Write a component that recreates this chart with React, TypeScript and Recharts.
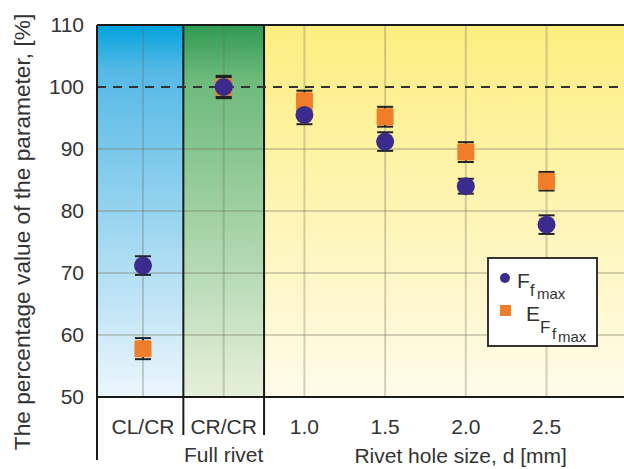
import {
  ComposedChart,
  Scatter,
  ErrorBar,
  XAxis,
  YAxis,
  ReferenceArea,
  ReferenceLine,
  Legend,
} from 'recharts'

const categories = ['CL/CR', 'CR/CR', '1.0', '1.5', '2.0', '2.5']
const forceValues = [71.2, 100, 95.5, 91.2, 84.0, 77.8]
const forceErrors = [1.5, 1.6, 1.5, 1.5, 1.2, 1.5]
const energyValues = [57.8, 100, 97.8, 95.2, 89.5, 84.8]
const energyErrors = [1.7, 1.8, 1.6, 1.6, 1.6, 1.5]
const yTicks = [50, 60, 70, 80, 90, 100, 110]
const xDomain: [number, number] = [-0.57, 5.96]
const groupBounds = [0.5, 1.5]

const FONT = "'Liberation Sans', Arial, sans-serif"
const INK = '#1a1a1a'
const TEXT = '#333'

const forceData = categories.map((_, i) => ({ x: i, y: forceValues[i], err: forceErrors[i] }))
const energyData = categories.map((_, i) => ({ x: i, y: energyValues[i], err: energyErrors[i] }))
const xTicks = [xDomain[0], ...categories.map((_, i) => i), ...groupBounds].sort((a, b) => a - b)

function XTick(props: any) {
  const { x, y, payload } = props
  const v = payload.value
  if (Number.isInteger(v)) {
    return (
      <g>
        <text x={x} y={y + 37} textAnchor="middle" fontFamily={FONT} fontSize={21} fill={TEXT}>
          {categories[v]}
        </text>
        {v === 1 && (
          <text x={x} y={y + 65} textAnchor="middle" fontFamily={FONT} fontSize={21} fill={TEXT}>
            Full rivet
          </text>
        )}
      </g>
    )
  }
  const long = v < 0
  return <line x1={x} x2={x} y1={y} y2={y + (long ? 63 : 38)} stroke={INK} strokeWidth={2} />
}

function LegendBox() {
  return (
    <svg width={111} height={90} style={{ display: 'block' }}>
      <rect x={1} y={1} width={109} height={88} fill="#fff" stroke="#333" strokeWidth={2} />
      <circle cx={18} cy={21} r={5} fill="#3a2b8c" />
      <text fontFamily={FONT} fill={TEXT}>
        <tspan x={30} y={31} fontSize={21}>F</tspan>
        <tspan x={43} y={39} fontSize={16}>f</tspan>
        <tspan x={50} y={42} fontSize={15}>max</tspan>
      </text>
      <rect x={13} y={48} width={11} height={11} fill="#f07d2a" />
      <text fontFamily={FONT} fill={TEXT}>
        <tspan x={39} y={64} fontSize={21}>E</tspan>
        <tspan x={53} y={76} fontSize={17}>F</tspan>
        <tspan x={65} y={82} fontSize={15}>f</tspan>
        <tspan x={71} y={85} fontSize={15}>max</tspan>
      </text>
    </svg>
  )
}

export default function App() {
  return (
    <div style={{ position: 'absolute', left: 0, top: 0, width: 624, height: 469, overflow: 'hidden', background: '#fff' }}>
      <ComposedChart width={624} height={469} margin={{ top: 25, right: 0, bottom: 0, left: 0 }}>
        <defs>
          <linearGradient id="blueGrad" x1="0" y1="0" x2="0" y2="1">
            <stop offset="0" stopColor="#00a2dc" />
            <stop offset="0.12" stopColor="#55b9e6" />
            <stop offset="1" stopColor="#ecf6fc" />
          </linearGradient>
          <linearGradient id="greenGrad" x1="0" y1="0" x2="0" y2="1">
            <stop offset="0" stopColor="#2f9a52" />
            <stop offset="0.14" stopColor="#6cb97a" />
            <stop offset="1" stopColor="#e6f0da" />
          </linearGradient>
          <linearGradient id="yellowGrad" x1="0" y1="0" x2="0" y2="1">
            <stop offset="0" stopColor="#fdee80" />
            <stop offset="1" stopColor="#fffbea" />
          </linearGradient>
        </defs>
        <XAxis
          type="number"
          dataKey="x"
          domain={xDomain}
          allowDataOverflow
          ticks={xTicks}
          interval={0}
          tick={<XTick />}
          tickLine={false}
          tickSize={0}
          tickMargin={0}
          height={72}
          axisLine={{ stroke: INK, strokeWidth: 2 }}
          label={{
            content: (p: any) => {
              const vb = p.viewBox
              return (
                <text x={vb.x + vb.width * 0.69} y={vb.y + 66} textAnchor="middle" fontFamily={FONT} fontSize={21} fill={TEXT}>
                  Rivet hole size, d [mm]
                </text>
              )
            },
          }}
        />
        <YAxis
          type="number"
          domain={[50, 110]}
          ticks={yTicks}
          interval={0}
          width={97}
          tickLine={false}
          tickSize={0}
          tickMargin={13}
          tick={{ fontFamily: FONT, fontSize: 21, fill: TEXT }}
          axisLine={{ stroke: INK, strokeWidth: 2 }}
          label={{
            content: (p: any) => {
              const vb = p.viewBox
              const cx = vb.x + 30
              const cy = vb.y + vb.height / 2 + 21
              return (
                <text x={cx} y={cy} transform={`rotate(-90, ${cx}, ${cy})`} textAnchor="middle" fontFamily={FONT} fontSize={22.7} fill={TEXT}>
                  The percentage value of the parameter, [%]
                </text>
              )
            },
          }}
        />
        <ReferenceArea x1={xDomain[0]} x2={groupBounds[0]} y1={50} y2={110} fill="url(#blueGrad)" fillOpacity={1} />
        <ReferenceArea x1={groupBounds[0]} x2={groupBounds[1]} y1={50} y2={110} fill="url(#greenGrad)" fillOpacity={1} />
        <ReferenceArea x1={groupBounds[1]} x2={xDomain[1]} y1={50} y2={110} fill="url(#yellowGrad)" fillOpacity={1} />
        {yTicks.slice(1, 5).map((t) => (
          <ReferenceLine key={'h' + t} y={t} stroke="rgba(110,110,90,0.3)" strokeWidth={2} />
        ))}
        {categories.map((_, i) => (
          <ReferenceLine key={'v' + i} x={i} stroke="rgba(110,110,90,0.3)" strokeWidth={2} />
        ))}
        {groupBounds.map((b) => (
          <ReferenceLine key={'b' + b} x={b} stroke={INK} strokeWidth={2} />
        ))}
        <ReferenceLine y={100} stroke="#333" strokeWidth={2} strokeDasharray="9 7" />
        <ReferenceLine y={110} stroke={INK} strokeWidth={2} />
        <Scatter
          name="E"
          data={energyData}
          dataKey="y"
          isAnimationActive={false}
          shape={(p: any) => <rect x={p.cx - 8.5} y={p.cy - 8.5} width={17} height={17} rx={1.5} fill="#f07d2a" />}
        >
          <ErrorBar dataKey="err" direction="y" width={8} stroke="#222" strokeWidth={2} />
        </Scatter>
        <Scatter
          name="F"
          data={forceData}
          dataKey="y"
          isAnimationActive={false}
          shape={(p: any) => <circle cx={p.cx} cy={p.cy} r={9} fill="#3a2b8c" />}
        >
          <ErrorBar dataKey="err" direction="y" width={8} stroke="#222" strokeWidth={2} />
        </Scatter>
        <Legend
          layout="horizontal"
          verticalAlign="middle"
          align="center"
          wrapperStyle={{ left: 487, top: 257, width: 111, height: 90 }}
          content={() => <LegendBox />}
        />
      </ComposedChart>
    </div>
  )
}
